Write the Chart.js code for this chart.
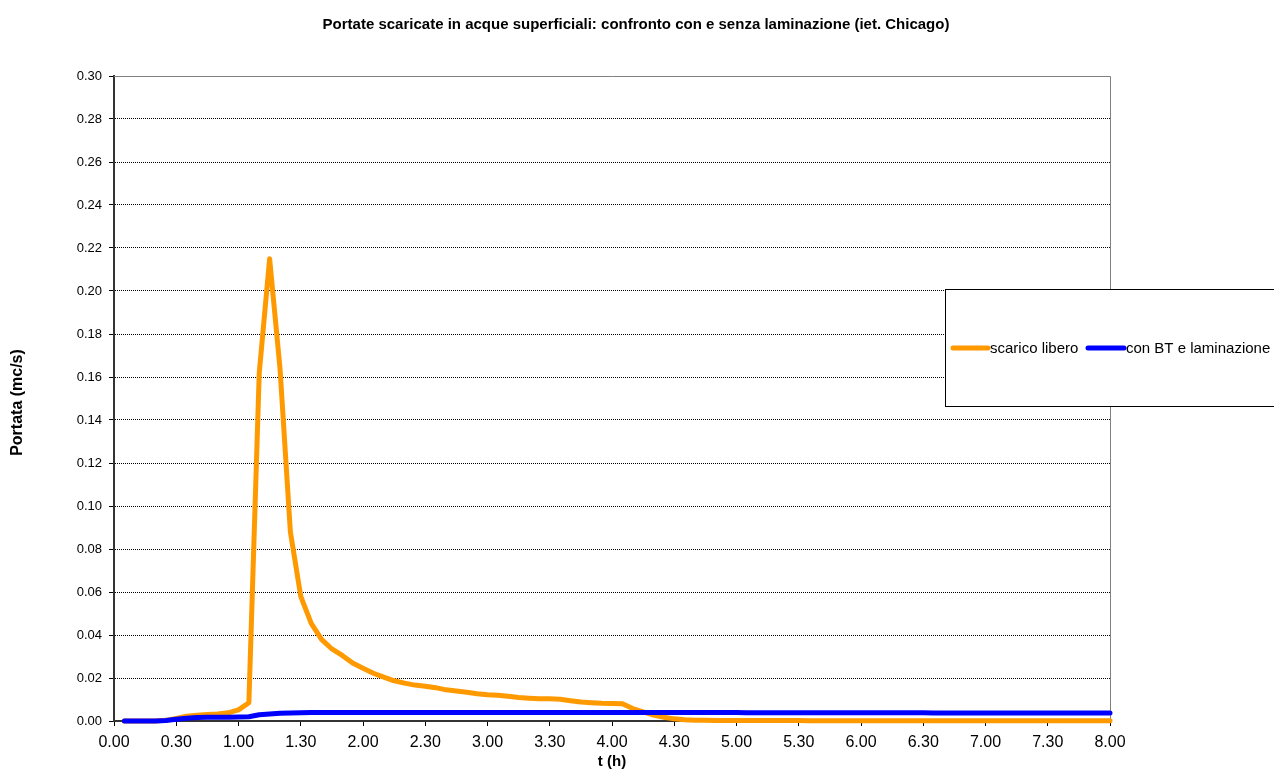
<!DOCTYPE html>
<html><head><meta charset="utf-8">
<script src="https://cdn.jsdelivr.net/npm/chart.js@4.4.1/dist/chart.umd.min.js"></script>
<style>html,body{margin:0;padding:0;background:#fff;overflow:hidden}#wrap{position:relative;width:1274px;height:771px}</style>
</head><body><div id="wrap"><canvas id="c" width="1274" height="771"></canvas></div>
<script>
// time since start of event, minutes
const minutes = [5,10,15,20,25,30,35,40,45,50,55,60,65,70,75,80,85,90,95,100,
105,110,115,120,125,130,135,140,145,150,155,160,165,170,175,180,185,190,195,200,
205,210,215,220,225,230,235,240,245,250,255,260,265,270,275,280,285,290,295,300,
305,310,315,320,325,330,335,340,345,350,355,360,365,370,375,380,385,390,395,400,
405,410,415,420,425,430,435,440,445,450,455,460,465,470,475,480];

// Portata (mc/s) - scarico libero
const scaricoLibero = [0,0,0,0,0.0003,0.0012,0.0022,0.0027,0.003,0.0033,
0.0038,0.0052,0.0085,0.162,0.215,0.164,0.088,0.058,0.0455,0.038,
0.0335,0.0305,0.027,0.0245,0.0222,0.0204,0.0187,0.0176,0.0167,0.0162,
0.0155,0.0145,0.014,0.0134,0.0127,0.0122,0.012,0.0115,0.0109,0.0106,
0.0104,0.0103,0.0101,0.0094,0.0088,0.0085,0.0082,0.0081,0.008,0.0058,
0.0042,0.0028,0.0017,0.001,0.0006,0.0004,0.0003,0.0002,0.0002,0.0002,
0.0002,0.0002,0.0002,0.0002,0.0002,0.0002,0.0001,0.0001,0.0001,0.0001,
0.0001,0.0001,0.0001,0.0001,0.0001,0.0001,0.0001,0.0001,0.0001,0.0001,
0.0001,0.0001,0.0001,0.0001,0.0001,0.0001,0.0001,0.0001,0.0001,0.0001,
0.0001,0.0001,0.0001,0.0001,0.0001,0.0001];

// Portata (mc/s) - con BT e laminazione
const conBTLaminazione = [0,0,0,0,0.0002,0.0008,0.0013,0.0016,0.0017,0.0017,
0.0018,0.0019,0.002,0.0029,0.0033,0.0036,0.0037,0.0038,0.0039,0.0039,
0.004,0.004,0.004,0.004,0.004,0.004,0.004,0.004,0.004,0.004,
0.004,0.004,0.004,0.004,0.004,0.004,0.004,0.004,0.004,0.004,
0.004,0.004,0.004,0.004,0.004,0.004,0.004,0.004,0.004,0.004,
0.004,0.004,0.004,0.004,0.004,0.004,0.004,0.004,0.004,0.004,
0.0038,0.0038,0.0038,0.0038,0.0038,0.0038,0.0038,0.0038,0.0038,0.0038,
0.0038,0.0038,0.0038,0.0038,0.0038,0.0038,0.0038,0.0038,0.0037,0.0037,
0.0037,0.0037,0.0037,0.0037,0.0037,0.0037,0.0037,0.0037,0.0037,0.0037,
0.0037,0.0037,0.0037,0.0037,0.0037,0.0037];

const xTickLabels = ['0.00','0.30','1.00','1.30','2.00','2.30','3.00','3.30','4.00',
'4.30','5.00','5.30','6.00','6.30','7.00','7.30','8.00'];
const seriesNames = ['scarico libero','con BT e laminazione'];
const seriesColors = ['#FF9900','#0000FF'];
const chartTitle = 'Portate scaricate in acque superficiali: confronto con e senza laminazione (iet. Chicago)';
const yTitle = 'Portata (mc/s)';
const xTitle = 't (h)';

const FONT = '"Liberation Sans", Arial, sans-serif';

const decor = {
  id: 'decor',
  beforeDatasetsDraw(chart) {
    const {ctx, chartArea: a} = chart;
    ctx.save();
    ctx.strokeStyle = '#808080';
    ctx.lineWidth = 1;
    ctx.beginPath();
    ctx.moveTo(a.left, a.top + 0.5);
    ctx.lineTo(a.right + 0.5, a.top + 0.5);
    ctx.lineTo(a.right + 0.5, a.bottom);
    ctx.stroke();
    ctx.restore();
  },
  afterDraw(chart) {
    const {ctx, chartArea: a} = chart;
    ctx.save();
    ctx.fillStyle = '#000';
    // title
    ctx.font = 'bold 15px ' + FONT;
    ctx.textAlign = 'center';
    ctx.textBaseline = 'middle';
    ctx.fillText(chartTitle, 636, 25, 640);
    // x title
    ctx.font = 'bold 15px ' + FONT;
    ctx.fillText(xTitle, (a.left + a.right) / 2, 762);
    // y title
    ctx.save();
    ctx.translate(18, (a.top + a.bottom) / 2 + 4);
    ctx.rotate(-Math.PI / 2);
    ctx.font = 'bold 16px ' + FONT;
    ctx.fillText(yTitle, 0, 0, 114);
    ctx.restore();
    // legend
    ctx.fillStyle = '#fff';
    ctx.fillRect(945.5, 289.5, 340, 117);
    ctx.strokeStyle = '#000';
    ctx.lineWidth = 1;
    ctx.strokeRect(945.5, 289.5, 340, 117);
    const ly = 348;
    const items = [
      {x0: 953, x1: 988, tx: 990},
      {x0: 1088, x1: 1124, tx: 1126}
    ];
    ctx.font = '15px ' + FONT;
    ctx.textAlign = 'left';
    ctx.textBaseline = 'middle';
    items.forEach((it, i) => {
      ctx.strokeStyle = seriesColors[i];
      ctx.lineWidth = 5;
      ctx.lineCap = 'round';
      ctx.beginPath();
      ctx.moveTo(it.x0, ly);
      ctx.lineTo(it.x1, ly);
      ctx.stroke();
      ctx.fillStyle = '#000';
      ctx.fillText(seriesNames[i], it.tx, ly + 1, 148);
    });
    ctx.restore();
  }
};

new Chart(document.getElementById('c'), {
  type: 'line',
  data: {
    datasets: [
      {
        label: seriesNames[0],
        data: minutes.map((m, i) => ({x: m, y: scaricoLibero[i]})),
        borderColor: seriesColors[0], backgroundColor: seriesColors[0],
        borderWidth: 5, pointRadius: 0, tension: 0, fill: false,
        borderJoinStyle: 'round', borderCapStyle: 'round', clip: false, order: 1
      },
      {
        label: seriesNames[1],
        data: minutes.map((m, i) => ({x: m, y: conBTLaminazione[i]})),
        borderColor: seriesColors[1], backgroundColor: seriesColors[1],
        borderWidth: 5, pointRadius: 0, tension: 0, fill: false,
        borderJoinStyle: 'round', borderCapStyle: 'round', clip: false, order: 0
      }
    ]
  },
  options: {
    responsive: false,
    devicePixelRatio: 1,
    animation: false,
    layout: {padding: {left: 0, right: 164, top: 76, bottom: 0}},
    plugins: {legend: {display: false}, tooltip: {enabled: false}, title: {display: false}},
    scales: {
      x: {
        type: 'linear', min: 0, max: 480,
        afterFit: s => { s.height = 50; },
        ticks: {
          stepSize: 30, autoSkip: false, maxRotation: 0, minRotation: 0,
          color: '#000', font: {family: FONT, size: 16}, padding: 7,
          callback: v => xTickLabels[Math.round(v / 30)]
        },
        grid: {drawOnChartArea: false, drawTicks: true, tickLength: 5, tickColor: '#000', color: '#000'},
        border: {display: true, color: '#333', width: 2}
      },
      y: {
        min: 0, max: 0.3,
        afterFit: s => { s.width = 114; },
        ticks: {
          stepSize: 0.02, color: '#000', font: {family: FONT, size: 13}, padding: 7,
          callback: v => v.toFixed(2)
        },
        grid: {color: '#000', lineWidth: 1, drawTicks: true, tickLength: 5, tickColor: '#000', tickBorderDash: []},
        border: {display: true, color: '#333', width: 2, dash: [1, 1]}
      }
    }
  },
  plugins: [decor]
});
</script></body></html>
